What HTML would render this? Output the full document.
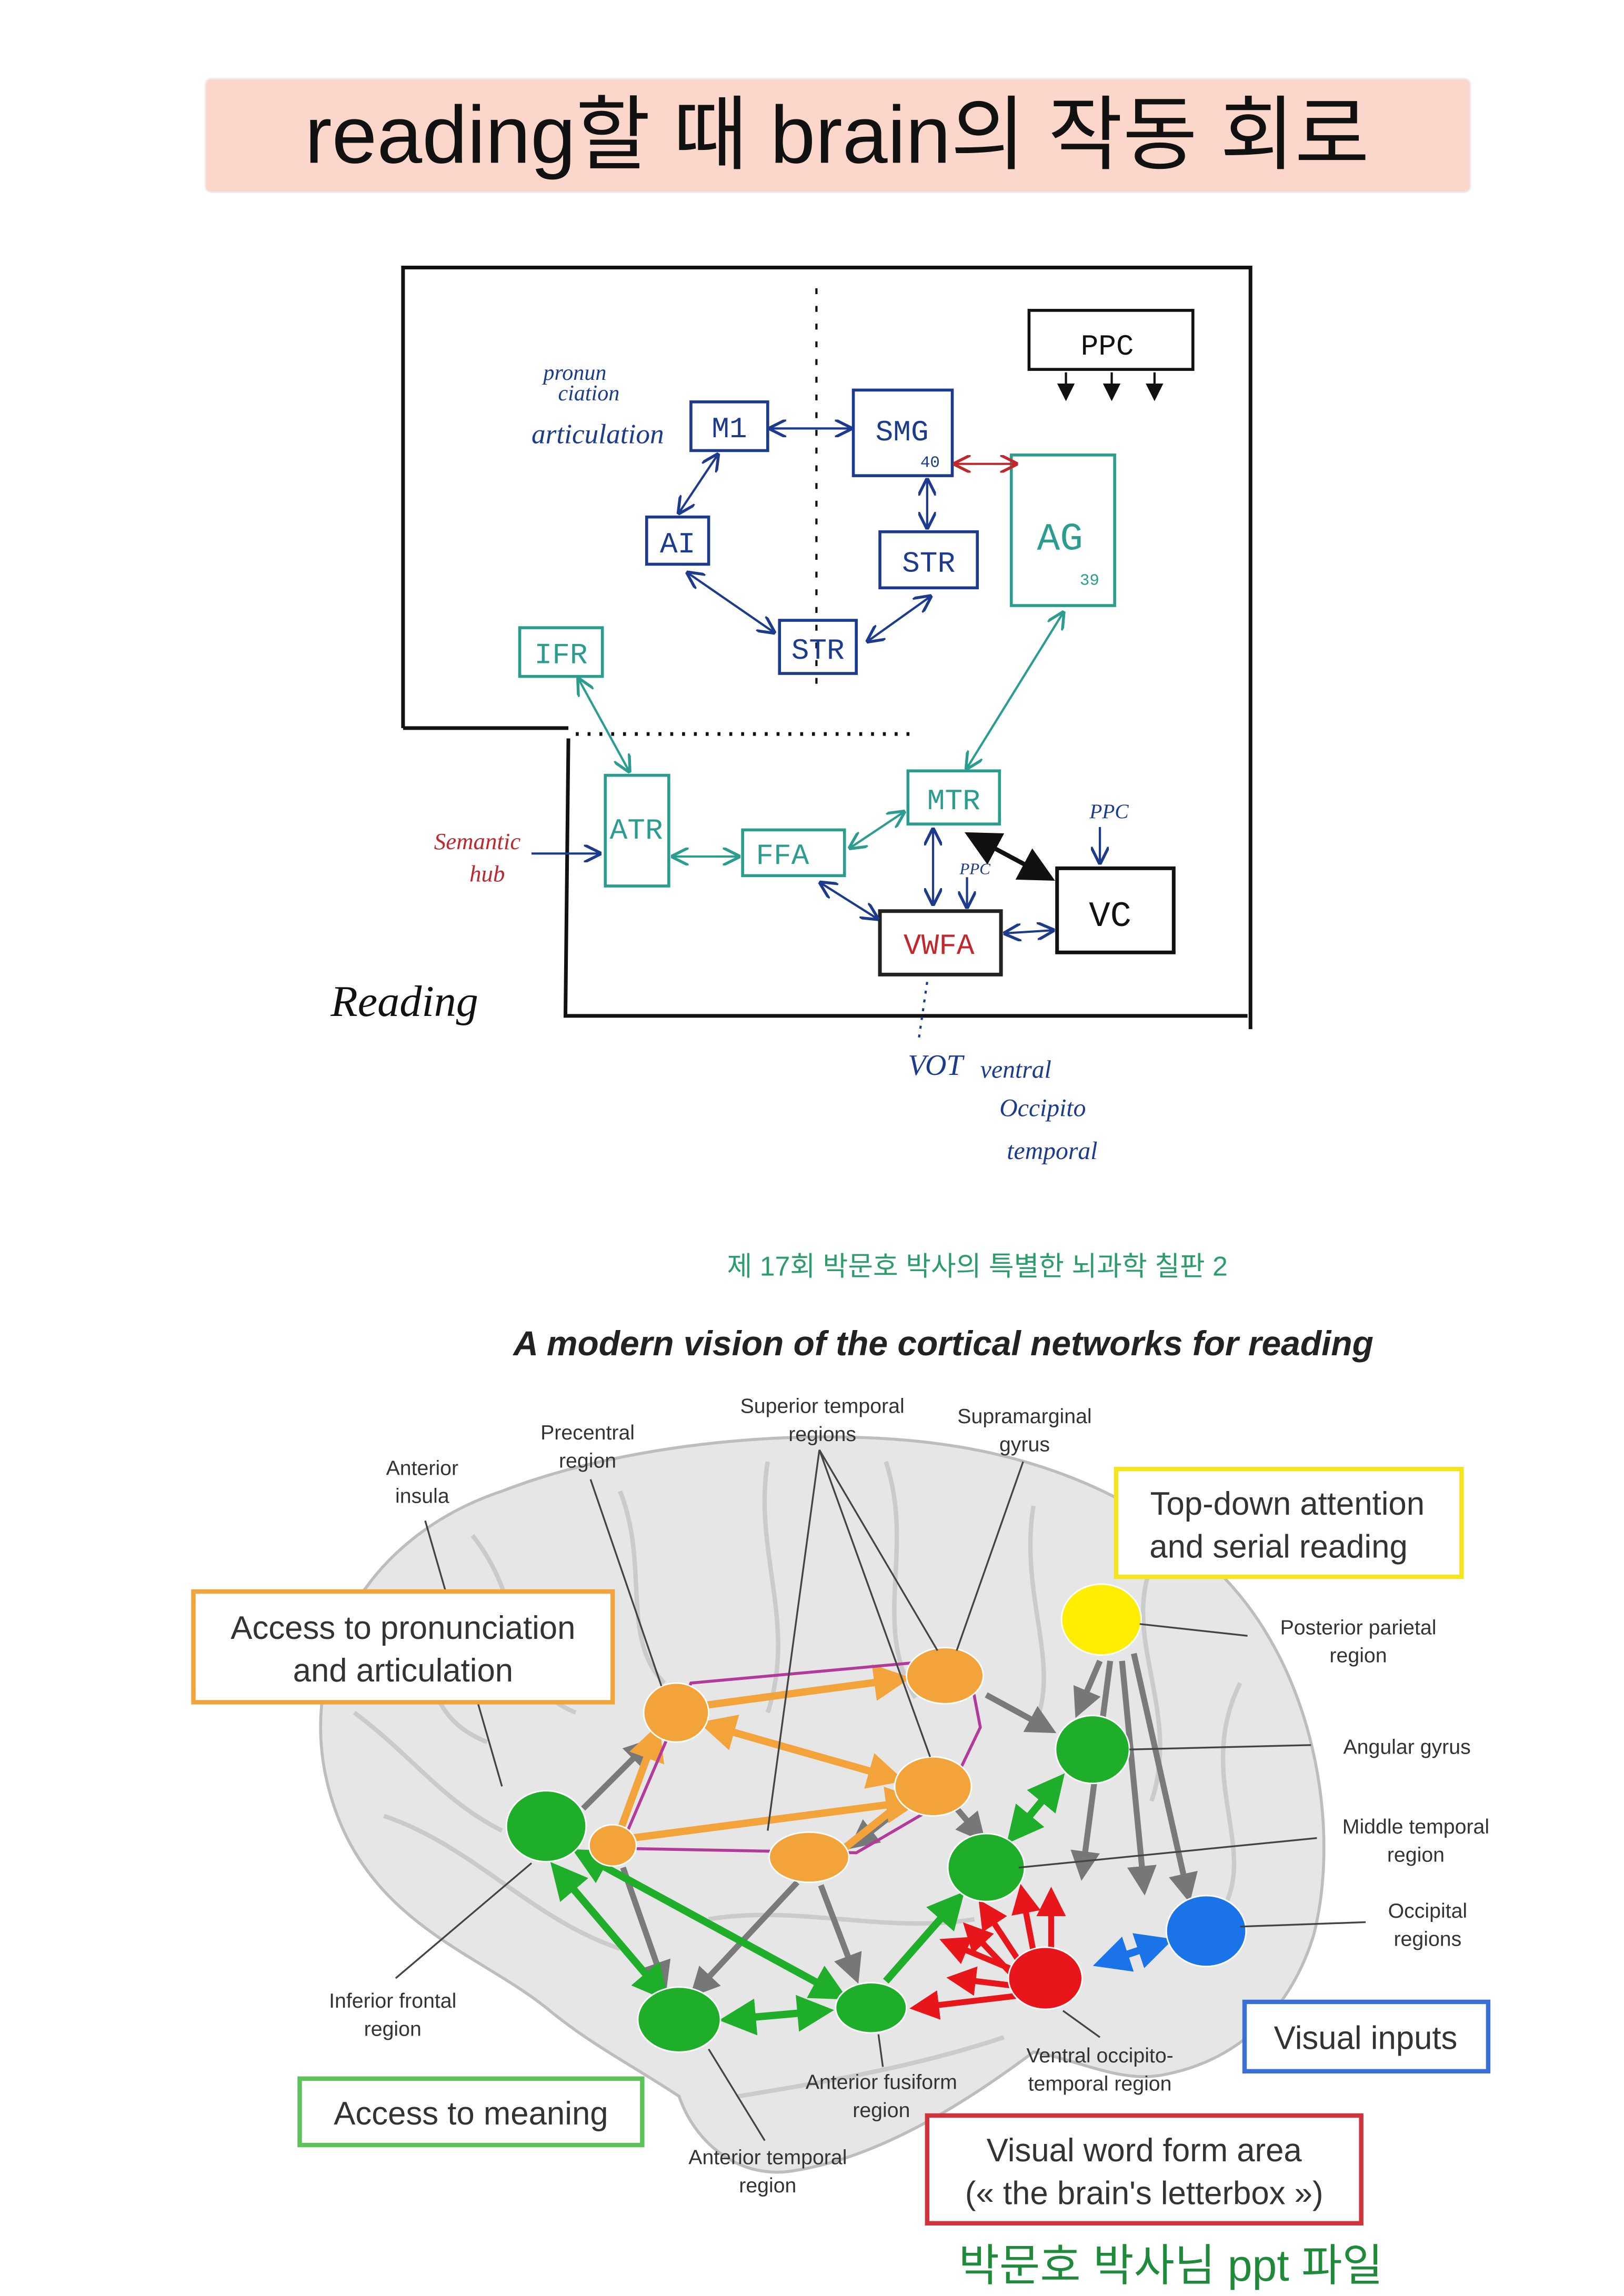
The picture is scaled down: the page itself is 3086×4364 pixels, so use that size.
<!DOCTYPE html>
<html><head><meta charset="utf-8"><style>
html,body{margin:0;padding:0;background:#fff}
svg{display:block}
</style></head><body>
<svg width="3086" height="4364" viewBox="0 0 1100 1555" xmlns="http://www.w3.org/2000/svg" font-family="'Liberation Sans','Noto Sans CJK KR',sans-serif">
<defs>
<marker id="ab" markerWidth="8" markerHeight="8" refX="7" refY="4" orient="auto-start-reverse"><path d="M0,0 L8,4 L0,8" fill="none" stroke="#1c3b8f" stroke-width="1.3"/></marker>
<marker id="at" markerWidth="8" markerHeight="8" refX="7" refY="4" orient="auto-start-reverse"><path d="M0,0 L8,4 L0,8" fill="none" stroke="#2a9d8f" stroke-width="1.3"/></marker>
<marker id="ar" markerWidth="8" markerHeight="8" refX="7" refY="4" orient="auto-start-reverse"><path d="M0,0 L8,4 L0,8" fill="none" stroke="#c0282d" stroke-width="1.3"/></marker>
<marker id="ak" markerWidth="8" markerHeight="8" refX="7" refY="4" orient="auto-start-reverse"><path d="M0,0 L8,4 L0,8 z" fill="#111"/></marker>
<marker id="ao" markerWidth="5" markerHeight="5" refX="4" refY="2.5" orient="auto-start-reverse"><path d="M0,0 L5,2.5 L0,5 z" fill="#f2a33a"/></marker>
<marker id="ag" markerWidth="5" markerHeight="5" refX="4" refY="2.5" orient="auto-start-reverse"><path d="M0,0 L5,2.5 L0,5 z" fill="#1fae2a"/></marker>
<marker id="ay" markerWidth="5" markerHeight="5" refX="4" refY="2.5" orient="auto-start-reverse"><path d="M0,0 L5,2.5 L0,5 z" fill="#777"/></marker>
<marker id="arr" markerWidth="5" markerHeight="5" refX="4" refY="2.5" orient="auto-start-reverse"><path d="M0,0 L5,2.5 L0,5 z" fill="#e8161b"/></marker>
<marker id="abb" markerWidth="5" markerHeight="5" refX="4" refY="2.5" orient="auto-start-reverse"><path d="M0,0 L5,2.5 L0,5 z" fill="#1a73e8"/></marker>
</defs>
<rect width="1100" height="1555" fill="#fff"/>
<rect x="139" y="53" width="857" height="77" rx="4" fill="#fbd7cb" stroke="#eee"/>
<text x="567" y="110" font-size="55" text-anchor="middle" fill="#111">reading할 때 brain의 작동 회로</text>

<g fill="none" stroke="#111" stroke-width="2.5">
<path d="M273,493 L273,181 L847,181 L847,697"/>
<path d="M273,493 L385,493"/>
<path d="M390,497 L620,497" stroke-dasharray="2,6"/>
<path d="M385,500 L383,688 L845,688"/>
</g>
<path d="M553,195 L553,470" stroke="#111" stroke-width="1.5" stroke-dasharray="4,8"/>

<g font-family="'Liberation Mono',monospace" font-size="20" text-anchor="middle">
<rect x="697" y="210" width="111" height="40" fill="none" stroke="#111" stroke-width="2"/><text x="750" y="240" fill="#111">PPC</text>
<g stroke="#111" stroke-width="1.5"><path d="M722,252 V270" marker-end="url(#ak)"/><path d="M753,252 V270" marker-end="url(#ak)"/><path d="M782,252 V270" marker-end="url(#ak)"/></g>
<g stroke="#1c3b8f" stroke-width="2" fill="none">
<rect x="468" y="272" width="52" height="33"/><rect x="578" y="264" width="67" height="58"/>
<rect x="438" y="350" width="42" height="32"/><rect x="596" y="360" width="66" height="38"/>
<rect x="528" y="420" width="52" height="36"/>
</g>
<g fill="#1c3b8f"><text x="494" y="296">M1</text><text x="611" y="298">SMG</text><text x="459" y="374">AI</text><text x="629" y="387">STR</text><text x="554" y="446">STR</text>
<text x="630" y="316" font-size="11">40</text></g>
<g stroke="#2a9d8f" stroke-width="2" fill="none">
<rect x="685" y="308" width="70" height="102"/><rect x="352" y="425" width="56" height="33"/>
<rect x="410" y="525" width="43" height="75"/><rect x="503" y="562" width="69" height="31"/>
<rect x="615" y="522" width="62" height="36"/>
</g>
<g fill="#2a9d8f"><text x="718" y="372" font-size="26">AG</text><text x="738" y="396" font-size="11">39</text><text x="380" y="449">IFR</text><text x="431" y="568">ATR</text><text x="530" y="585">FFA</text><text x="646" y="548">MTR</text></g>
<rect x="596" y="617" width="82" height="43" fill="none" stroke="#222" stroke-width="2.5"/><text x="636" y="646" fill="#c0282d">VWFA</text>
<rect x="716" y="588" width="79" height="57" fill="none" stroke="#111" stroke-width="2.5"/><text x="752" y="627" fill="#111" font-size="24">VC</text>
</g>
<g fill="none" stroke-width="1.5">
<path d="M522,290 L576,290" stroke="#1c3b8f" marker-start="url(#ab)" marker-end="url(#ab)"/>
<path d="M647,314 L688,314" stroke="#c0282d" marker-start="url(#ar)" marker-end="url(#ar)"/>
<path d="M486,308 L460,347" stroke="#1c3b8f" marker-start="url(#ab)" marker-end="url(#ab)"/>
<path d="M628,325 L628,357" stroke="#1c3b8f" marker-start="url(#ab)" marker-end="url(#ab)"/>
<path d="M466,388 L524,428" stroke="#1c3b8f" marker-start="url(#ab)" marker-end="url(#ab)"/>
<path d="M588,434 L630,404" stroke="#1c3b8f" marker-start="url(#ab)" marker-end="url(#ab)"/>
<path d="M720,415 L655,520" stroke="#2a9d8f" marker-start="url(#at)" marker-end="url(#at)"/>
<path d="M392,460 L426,522" stroke="#2a9d8f" marker-start="url(#at)" marker-end="url(#at)"/>
<path d="M456,580 L500,580" stroke="#2a9d8f" marker-start="url(#at)" marker-end="url(#at)"/>
<path d="M576,574 L612,550" stroke="#2a9d8f" marker-start="url(#at)" marker-end="url(#at)"/>
<path d="M556,598 L594,622" stroke="#1c3b8f" marker-start="url(#ab)" marker-end="url(#ab)"/>
<path d="M632,562 L632,612" stroke="#1c3b8f" marker-start="url(#ab)" marker-end="url(#ab)"/>
<path d="M655,594 L655,614" stroke="#1c3b8f" marker-end="url(#ab)"/>
<path d="M681,632 L713,630" stroke="#1c3b8f" marker-start="url(#ab)" marker-end="url(#ab)"/>
<path d="M745,560 L745,584" stroke="#1c3b8f" marker-end="url(#ab)"/>
<path d="M360,578 L406,578" stroke="#1c3b8f" marker-end="url(#ab)"/>
<path d="M628,665 L622,706" stroke="#1c3b8f" stroke-dasharray="2,4"/>
</g>
<path d="M656,565 L712,595" stroke="#111" stroke-width="3" marker-start="url(#ak)" marker-end="url(#ak)"/>
<g font-family="'Liberation Serif',serif" font-style="italic">
<text x="368" y="257" font-size="15" fill="#1c3b8f">pronun</text><text x="378" y="271" font-size="15" fill="#1c3b8f">ciation</text>
<text x="360" y="300" font-size="19" fill="#1c3b8f">articulation</text>
<text x="294" y="575" font-size="16" fill="#c0282d">Semantic</text><text x="318" y="597" font-size="16" fill="#c0282d">hub</text>
<text x="738" y="554" font-size="14" fill="#1c3b8f">PPC</text><text x="650" y="592" font-size="11" fill="#1c3b8f">PPC</text>
<text x="224" y="688" font-size="30" fill="#111">Reading</text>
<text x="615" y="728" font-size="20" fill="#1c3b8f">VOT</text>
<text x="664" y="730" font-size="17" fill="#1c3b8f">ventral</text>
<text x="677" y="756" font-size="17" fill="#1c3b8f">Occipito</text>
<text x="682" y="785" font-size="17" fill="#1c3b8f">temporal</text>
</g>

<text x="662" y="864" font-size="18.5" text-anchor="middle" fill="#2a9d6a">제 17회 박문호 박사의 특별한 뇌과학 칠판 2</text>
<text x="639" y="918" font-size="23.5" font-weight="bold" font-style="italic" text-anchor="middle" fill="#222">A modern vision of the cortical networks for reading</text>

<path d="M220,1200 C205,1120 250,1040 340,1010 C430,975 560,965 650,980 C740,995 820,1040 860,1110 C895,1170 905,1250 890,1310 C875,1360 840,1395 790,1405 C760,1412 730,1395 700,1390 C660,1420 600,1460 540,1470 C500,1478 470,1450 460,1420 C430,1400 400,1385 370,1360 C320,1320 240,1300 220,1200 Z" fill="#e6e6e6" stroke="#bdbdbd" stroke-width="2"/>
<g fill="none" stroke="#c4c4c4" stroke-width="3" opacity="0.8">
<path d="M260,1080 C300,1120 280,1160 330,1180"/><path d="M320,1040 C360,1090 340,1140 390,1160"/>
<path d="M420,1010 C440,1060 420,1110 450,1140"/><path d="M520,990 C510,1050 540,1100 520,1160"/>
<path d="M600,990 C620,1050 590,1100 620,1150"/><path d="M700,1020 C690,1080 720,1130 700,1170"/>
<path d="M780,1060 C760,1110 800,1160 780,1220"/><path d="M840,1140 C810,1200 850,1250 830,1290"/>
<path d="M260,1230 C320,1250 360,1300 420,1320"/><path d="M480,1300 C540,1290 600,1310 660,1300"/>
<path d="M500,1420 C560,1410 620,1400 680,1380"/><path d="M240,1160 C280,1190 300,1220 340,1240"/>
</g>
<g stroke="#7a7a7a" stroke-width="4" marker-end="url(#ay)" fill="none">
<path d="M752,1125 L733,1270"/><path d="M760,1125 L775,1280"/><path d="M768,1120 L805,1285"/><path d="M745,1125 L730,1160"/>
<path d="M668,1148 L712,1172"/><path d="M422,1265 L450,1345"/><path d="M540,1275 L470,1350"/><path d="M556,1277 L580,1340"/>
<path d="M395,1225 L440,1180"/><path d="M610,1225 L578,1250"/><path d="M648,1225 L665,1245"/>
</g>
<g stroke="#f2a33a" stroke-width="5" fill="none">
<path d="M478,1155 L612,1137" marker-end="url(#ao)"/><path d="M478,1168 L608,1205" marker-start="url(#ao)" marker-end="url(#ao)"/>
<path d="M428,1245 L620,1220" marker-end="url(#ao)"/><path d="M445,1172 L420,1240" marker-start="url(#ao)"/>
<path d="M568,1255 L612,1220"/>
</g>
<path d="M468,1140 L655,1123 L664,1170 L640,1220 L580,1255 L420,1252 Z" fill="none" stroke="#b23a9a" stroke-width="2"/>
<g stroke="#1fae2a" stroke-width="5" fill="none">
<path d="M376,1265 L450,1352" marker-start="url(#ag)" marker-end="url(#ag)"/>
<path d="M392,1255 L570,1352" marker-start="url(#ag)" marker-end="url(#ag)"/>
<path d="M492,1368 L560,1362" marker-start="url(#ag)" marker-end="url(#ag)"/>
<path d="M600,1342 L650,1285" marker-end="url(#ag)"/>
<path d="M685,1245 L718,1205" marker-start="url(#ag)" marker-end="url(#ag)"/>
</g>
<g stroke="#e8161b" stroke-width="4" fill="none" marker-end="url(#arr)">
<path d="M690,1328 L665,1290"/><path d="M700,1322 L692,1280"/><path d="M712,1320 L712,1282"/><path d="M688,1335 L640,1315"/><path d="M686,1345 L645,1340"/><path d="M688,1352 L620,1360"/><path d="M688,1340 L655,1305"/>
</g>
<path d="M745,1330 L790,1315" stroke="#1a73e8" stroke-width="5" marker-start="url(#abb)" marker-end="url(#abb)"/>
<g stroke="#fff" stroke-width="1">
<ellipse cx="458" cy="1160" rx="22" ry="20" fill="#f2a33a"/><ellipse cx="640" cy="1135" rx="26" ry="19" fill="#f2a33a"/>
<ellipse cx="632" cy="1210" rx="26" ry="20" fill="#f2a33a"/><ellipse cx="548" cy="1258" rx="27" ry="17" fill="#f2a33a"/>
<ellipse cx="415" cy="1250" rx="16" ry="14" fill="#f2a33a"/>
<ellipse cx="370" cy="1237" rx="27" ry="24" fill="#1fae2a"/><ellipse cx="740" cy="1185" rx="25" ry="23" fill="#1fae2a"/>
<ellipse cx="668" cy="1265" rx="26" ry="23" fill="#1fae2a"/><ellipse cx="460" cy="1368" rx="28" ry="22" fill="#1fae2a"/>
<ellipse cx="590" cy="1360" rx="24" ry="17" fill="#1fae2a"/>
<ellipse cx="746" cy="1097" rx="27" ry="24" fill="#ffee00"/><ellipse cx="817" cy="1308" rx="27" ry="24" fill="#1a73e8"/>
<ellipse cx="708" cy="1340" rx="25" ry="21" fill="#e8161b"/>
</g>
<g stroke="#444" stroke-width="1.2">
<path d="M288,1030 L340,1210"/><path d="M400,1002 L448,1142"/><path d="M555,982 L520,1240"/><path d="M555,982 L630,1190"/><path d="M555,982 L635,1118"/>
<path d="M693,990 L648,1118"/><path d="M772,1100 L845,1108"/><path d="M765,1185 L888,1182"/><path d="M690,1265 L892,1245"/>
<path d="M840,1305 L925,1302"/><path d="M268,1340 L360,1262"/><path d="M720,1362 L745,1380"/><path d="M595,1378 L598,1400"/><path d="M480,1388 L518,1450"/>
</g>
<g font-size="14" fill="#333" text-anchor="middle">
<text x="286" y="999">Anterior</text><text x="286" y="1018">insula</text>
<text x="398" y="975">Precentral</text><text x="398" y="994">region</text>
<text x="557" y="957">Superior temporal</text><text x="557" y="976">regions</text>
<text x="694" y="964">Supramarginal</text><text x="694" y="983">gyrus</text>
<text x="920" y="1107">Posterior parietal</text><text x="920" y="1126">region</text>
<text x="953" y="1188">Angular gyrus</text>
<text x="959" y="1242">Middle temporal</text><text x="959" y="1261">region</text>
<text x="967" y="1299">Occipital</text><text x="967" y="1318">regions</text>
<text x="266" y="1360">Inferior frontal</text><text x="266" y="1379">region</text>
<text x="745" y="1397">Ventral occipito-</text><text x="745" y="1416">temporal region</text>
<text x="597" y="1415">Anterior fusiform</text><text x="597" y="1434">region</text>
<text x="520" y="1466">Anterior temporal</text><text x="520" y="1485">region</text>
</g>
<g fill="#fff" stroke-width="3">
<rect x="131" y="1078" width="284" height="75" stroke="#f2a33a"/>
<rect x="756" y="995" width="234" height="73" stroke="#f4e51c"/>
<rect x="843" y="1356" width="165" height="47" stroke="#3a6fd8"/>
<rect x="203" y="1408" width="232" height="45" stroke="#5cc35a"/>
<rect x="628" y="1433" width="294" height="73" stroke="#d0343a"/>
</g>
<g font-size="22" fill="#333" text-anchor="middle">
<text x="273" y="1110">Access to pronunciation</text><text x="273" y="1139">and articulation</text>
<text x="872" y="1026">Top-down attention</text><text x="866" y="1055">and serial reading</text>
<text x="925" y="1388">Visual inputs</text>
<text x="319" y="1439">Access to meaning</text>
<text x="775" y="1464">Visual word form area</text><text x="775" y="1493">(« the brain's letterbox »)</text>
</g>
<text x="793" y="1545" font-size="30" text-anchor="middle" fill="#1f8a3a">박문호 박사님 ppt 파일</text>
</svg>
</body></html>
